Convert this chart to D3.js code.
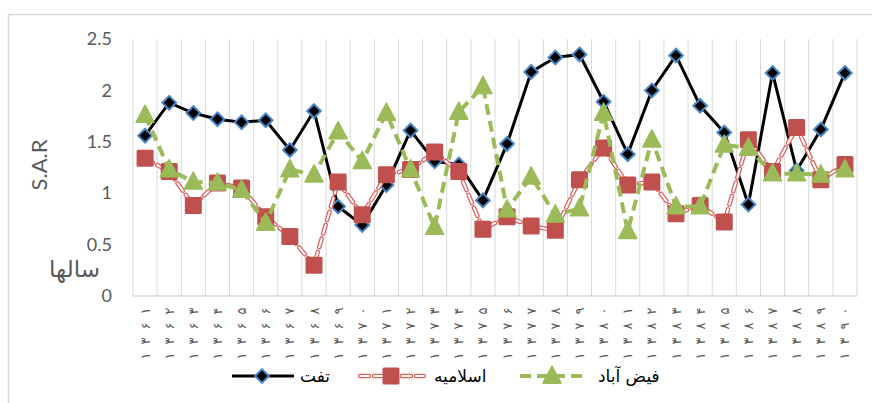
<!DOCTYPE html>
<html>
<head>
<meta charset="utf-8">
<script src="https://cdn.jsdelivr.net/npm/d3@7"></script>
<style>
  body { margin: 0; background: #fff; }
  svg { display: block; }
</style>
</head>
<body>
<div class="chart"></div>
<script>
var svgWidth = 872;
var svgHeight = 403;

// years (x tick labels)
var years = ["۱۳۶۱","۱۳۶۲","۱۳۶۳","۱۳۶۴","۱۳۶۵","۱۳۶۶","۱۳۶۷","۱۳۶۸","۱۳۶۹","۱۳۷۰",
             "۱۳۷۱","۱۳۷۲","۱۳۷۳","۱۳۷۴","۱۳۷۵","۱۳۷۶","۱۳۷۷","۱۳۷۸","۱۳۷۹","۱۳۸۰",
             "۱۳۸۱","۱۳۸۲","۱۳۸۳","۱۳۸۴","۱۳۸۵","۱۳۸۶","۱۳۸۷","۱۳۸۸","۱۳۸۹","۱۳۹۰"];

var yTicks = [0, 0.5, 1, 1.5, 2, 2.5];

var tafat = [1.56,1.88,1.78,1.72,1.69,1.71,1.42,1.80,0.87,0.69,
             1.08,1.61,1.31,1.28,0.93,1.48,2.18,2.32,2.35,1.89,
             1.38,2.00,2.34,1.85,1.59,0.89,2.17,1.22,1.62,2.17];
var islamieh = [1.34,1.21,0.88,1.10,1.05,0.77,0.58,0.30,1.11,0.79,
                1.18,1.23,1.40,1.21,0.65,0.77,0.68,0.64,1.13,1.44,
                1.08,1.11,0.80,0.88,0.72,1.52,1.21,1.64,1.13,1.28];
var feyzabad = [1.76,1.23,1.11,1.10,1.03,0.71,1.23,1.18,1.60,1.31,
                1.78,1.23,0.67,1.79,2.04,0.84,1.16,0.79,0.85,1.78,
                0.63,1.52,0.87,0.87,1.47,1.44,1.19,1.19,1.18,1.23];

var seriesNames = ["تفت", "اسلامیه", "فیض آباد"];

var svg = d3.select(".chart")
  .append("svg")
  .attr("width", svgWidth)
  .attr("height", svgHeight);

// outer frame
svg.append("rect")
  .attr("x", 8.5).attr("y", 14.5)
  .attr("width", 900).attr("height", 420)
  .attr("fill", "none")
  .attr("stroke", "#d9d9d9")
  .attr("stroke-width", 1.5);

var xScale = d3.scaleBand().domain(years).range([133, 857]);
var yScale = d3.scaleLinear().domain([0, 2.5]).range([296, 39]);

// vertical gridlines at category edges
var edges = years.map(d => xScale(d)).concat([xScale.range()[1]]);
svg.append("g").selectAll("line")
  .data(edges)
  .enter()
  .append("line")
  .attr("x1", d => d).attr("x2", d => d)
  .attr("y1", yScale(2.5)).attr("y2", yScale(0))
  .attr("stroke", "#d9d9d9")
  .attr("stroke-width", 1);

// x axis line
svg.append("line")
  .attr("x1", 133).attr("x2", 857)
  .attr("y1", yScale(0)).attr("y2", yScale(0))
  .attr("stroke", "#d9d9d9").attr("stroke-width", 1.5);

// y axis labels
var yaxis = d3.axisLeft(yScale).tickValues(yTicks).tickSize(0).tickPadding(0)
  .tickFormat(d => String(d));
var yg = svg.append("g").attr("transform", "translate(112,0)").call(yaxis);
yg.select(".domain").remove();
yg.selectAll("text")
  .attr("fill", "#595959")
  .style("font-family", "Lato, 'DejaVu Sans', sans-serif")
  .style("font-size", "18px");

// x axis labels (rotated persian years, one glyph per slot)
var xl = svg.append("g").selectAll("g")
  .data(years)
  .enter()
  .append("g")
  .attr("transform", d => `translate(${xScale(d) + xScale.bandwidth() / 2}, 356) rotate(-90)`);
xl.selectAll("text")
  .data(d => d.split(""))
  .enter()
  .append("text")
  .attr("x", (c, j) => j * 15)
  .attr("dy", "0.35em")
  .attr("text-anchor", "middle")
  .attr("fill", "#595959")
  .style("font-family", "'DejaVu Sans', sans-serif")
  .style("font-size", "13px")
  .text(c => c);

// axis titles
svg.append("text")
  .attr("transform", "translate(47,165) rotate(-90)")
  .attr("text-anchor", "middle")
  .attr("fill", "#595959")
  .style("font-family", "Lato, sans-serif")
  .style("font-size", "22px")
  .text("S.A.R");

svg.append("text")
  .attr("x", 100).attr("y", 277)
  .attr("text-anchor", "end")
  .attr("fill", "#595959")
  .style("font-family", "'DejaVu Sans', sans-serif")
  .style("font-size", "23px")
  .text("سالها");

var line = d3.line()
  .x((d, i) => xScale(years[i]) + xScale.bandwidth() / 2)
  .y(d => yScale(d));

var chartGroup = svg.append("g");

function diamond(g, s) {
  g.append("path")
    .attr("d", d3.symbol().type(d3.symbolDiamond2).size(s)())
    .attr("fill", "#000")
    .attr("stroke", "#4a86c8")
    .attr("stroke-width", 2);
}
function square(g, s) {
  g.append("rect")
    .attr("x", -s / 2).attr("y", -s / 2)
    .attr("width", s).attr("height", s)
    .attr("rx", 1.5)
    .attr("fill", "#c0504d");
}
function triangle(g, s) {
  g.append("path")
    .attr("d", `M0,${-s * 0.55}L${s / 2},${s * 0.4}L${-s / 2},${s * 0.4}Z`)
    .attr("fill", "#9bbb59")
    .attr("stroke", "#9bbb59")
    .attr("stroke-width", 1.5)
    .attr("stroke-linejoin", "round");
}

// tafat
chartGroup.append("path").datum(tafat)
  .attr("d", line).attr("fill", "none")
  .attr("stroke", "#000").attr("stroke-width", 3);
chartGroup.selectAll(".m1").data(tafat).enter().append("g")
  .attr("transform", (d, i) => `translate(${xScale(years[i]) + xScale.bandwidth() / 2},${yScale(d)})`)
  .each(function() { diamond(d3.select(this), 120); });

// islamieh (compound dashed line)
chartGroup.append("path").datum(islamieh)
  .attr("d", line).attr("fill", "none")
  .attr("stroke", "#d9615d").attr("stroke-width", 4.5)
  .attr("stroke-dasharray", "9,5").attr("stroke-linecap", "round");
chartGroup.append("path").datum(islamieh)
  .attr("d", line).attr("fill", "none")
  .attr("stroke", "#fff").attr("stroke-width", 2)
  .attr("stroke-dasharray", "9,5").attr("stroke-linecap", "round");
chartGroup.selectAll(".m2").data(islamieh).enter().append("g")
  .attr("transform", (d, i) => `translate(${xScale(years[i]) + xScale.bandwidth() / 2},${yScale(d)})`)
  .each(function() { square(d3.select(this), 17); });

// feyzabad
chartGroup.append("path").datum(feyzabad)
  .attr("d", line).attr("fill", "none")
  .attr("stroke", "#9bbb59").attr("stroke-width", 4)
  .attr("stroke-dasharray", "11,6");
chartGroup.selectAll(".m3").data(feyzabad).enter().append("g")
  .attr("transform", (d, i) => `translate(${xScale(years[i]) + xScale.bandwidth() / 2},${yScale(d)})`)
  .each(function() { triangle(d3.select(this), 18); });

// legend
var legendY = 376;
var lg = svg.append("g").style("font-family", "'DejaVu Sans', sans-serif").style("font-size", "17px");

lg.append("line").attr("x1", 232).attr("x2", 294).attr("y1", legendY).attr("y2", legendY)
  .attr("stroke", "#000").attr("stroke-width", 3);
diamond(lg.append("g").attr("transform", `translate(262,${legendY})`), 120);
lg.append("text").attr("x", 300).attr("y", legendY + 6).text(seriesNames[0]);

lg.append("line").attr("x1", 360).attr("x2", 424).attr("y1", legendY).attr("y2", legendY)
  .attr("stroke", "#d9615d").attr("stroke-width", 4.5).attr("stroke-dasharray", "9,5").attr("stroke-linecap", "round");
lg.append("line").attr("x1", 360).attr("x2", 424).attr("y1", legendY).attr("y2", legendY)
  .attr("stroke", "#fff").attr("stroke-width", 2).attr("stroke-dasharray", "9,5").attr("stroke-linecap", "round");
square(lg.append("g").attr("transform", `translate(391,${legendY})`), 17);
lg.append("text").attr("x", 434).attr("y", legendY + 6).text(seriesNames[1]);

lg.append("line").attr("x1", 520).attr("x2", 587).attr("y1", legendY).attr("y2", legendY)
  .attr("stroke", "#9bbb59").attr("stroke-width", 4).attr("stroke-dasharray", "11,6");
triangle(lg.append("g").attr("transform", `translate(552,${legendY})`), 18);
lg.append("text").attr("x", 598).attr("y", legendY + 6).text(seriesNames[2]);
</script>
</body>
</html>
